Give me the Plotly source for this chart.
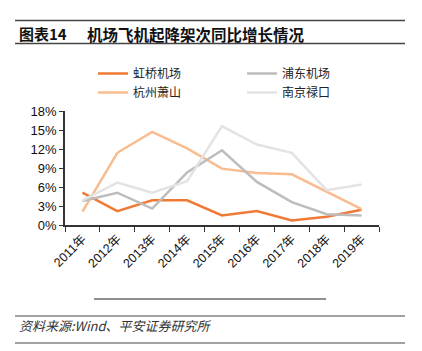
import plotly.graph_objects as go

years = ["2011年", "2012年", "2013年", "2014年", "2015年", "2016年", "2017年", "2018年", "2019年"]
hongqiao = [5.1, 2.2, 3.9, 3.9, 1.5, 2.2, 0.7, 1.3, 2.4]
pudong = [3.8, 5.1, 2.6, 8.3, 11.8, 6.8, 3.6, 1.7, 1.5]
hangzhou = [2.1, 11.4, 14.7, 12.1, 8.9, 8.2, 8.0, 5.3, 2.5]
nanjing = [3.9, 6.7, 5.1, 6.9, 15.6, 12.7, 11.4, 5.5, 6.4]
yticks = [0, 3, 6, 9, 12, 15, 18]

FONT = "Noto Sans CJK SC, Liberation Sans, Arial"
FONT_LAT = "Liberation Sans, Noto Sans CJK SC, Arial"

fig = go.Figure()
fig.add_trace(go.Scatter(x=years, y=hongqiao, name="虹桥机场", mode="lines",
                         line=dict(color="#EE7A35", width=2.5), legend="legend"))
fig.add_trace(go.Scatter(x=years, y=hangzhou, name="杭州萧山", mode="lines",
                         line=dict(color="#F9BC8F", width=2.5), legend="legend"))
fig.add_trace(go.Scatter(x=years, y=pudong, name="浦东机场", mode="lines",
                         line=dict(color="#BDBDBD", width=2.5), legend="legend2"))
fig.add_trace(go.Scatter(x=years, y=nanjing, name="南京禄口", mode="lines",
                         line=dict(color="#E3E3E3", width=2.5), legend="legend2"))

L, R, T, B = 65, 43, 111, 126
W, H = 422, 351
pw = W - L - R
ph = H - T - B

def px(x):
    return (x - L) / pw

def py(y):
    return (H - B - y) / ph

leg_common = dict(orientation="v", bgcolor="rgba(0,0,0,0)", tracegroupgap=0,
                  font=dict(family=FONT, size=12, color="#222"),
                  xanchor="left", yanchor="top", itemwidth=30)
fig.update_layout(
    width=W, height=H,
    margin=dict(l=L, r=R, t=T, b=B),
    paper_bgcolor="white", plot_bgcolor="white",
    showlegend=True,
    legend=dict(x=px(93), y=py(59), **leg_common),
    legend2=dict(x=px(242), y=py(59), **leg_common),
    xaxis=dict(type="category", showline=True, linecolor="#333", linewidth=1.5,
               ticks="outside", tickson="boundaries", ticklen=5, tickcolor="#333",
               tickangle=-45, tickfont=dict(family=FONT_LAT, size=12.5, color="#111"),
               showgrid=False, range=[-0.5, 8.5], fixedrange=True),
    yaxis=dict(range=[0, 18], tickvals=yticks, ticktext=[f"{v}%" for v in yticks],
               showline=True, linecolor="#333", linewidth=1.5, ticks="outside",
               ticklen=4, tickcolor="#333", showgrid=False, zeroline=False,
               tickfont=dict(family=FONT_LAT, size=13, color="#111")),
)

# header lines and title
fig.add_shape(type="line", xref="paper", yref="paper", x0=px(15), x1=px(405), y0=py(20.5), y1=py(20.5),
              line=dict(color="#444", width=1.5))
fig.add_shape(type="line", xref="paper", yref="paper", x0=px(15), x1=px(405), y0=py(43.5), y1=py(43.5),
              line=dict(color="#444", width=1.5))
fig.add_annotation(xref="paper", yref="paper", x=px(17), y=py(33.5), xanchor="left", yanchor="middle",
                   text="<b>图表14</b>", showarrow=False,
                   font=dict(family=FONT, size=15, color="#111"))
fig.add_annotation(xref="paper", yref="paper", x=px(85), y=py(33.5), xanchor="left", yanchor="middle",
                   text="<b>机场飞机起降架次同比增长情况</b>", showarrow=False,
                   font=dict(family=FONT, size=15.5, color="#111"))
# short line under axis labels
fig.add_shape(type="line", xref="paper", yref="paper", x0=px(94), x1=px(326), y0=py(299), y1=py(299),
              line=dict(color="#222", width=1.2))
# source block
fig.add_shape(type="line", xref="paper", yref="paper", x0=px(15), x1=px(405), y0=py(316), y1=py(316),
              line=dict(color="#444", width=1.2))
fig.add_shape(type="line", xref="paper", yref="paper", x0=px(15), x1=px(405), y0=py(343), y1=py(343),
              line=dict(color="#444", width=1.2))
fig.add_annotation(xref="paper", yref="paper", x=px(17), y=py(325.5), xanchor="left", yanchor="middle",
                   text="<i>资料来源:Wind、平安证券研究所</i>", showarrow=False,
                   font=dict(family=FONT, size=13, color="#333"))

fig.write_html("out.html")
